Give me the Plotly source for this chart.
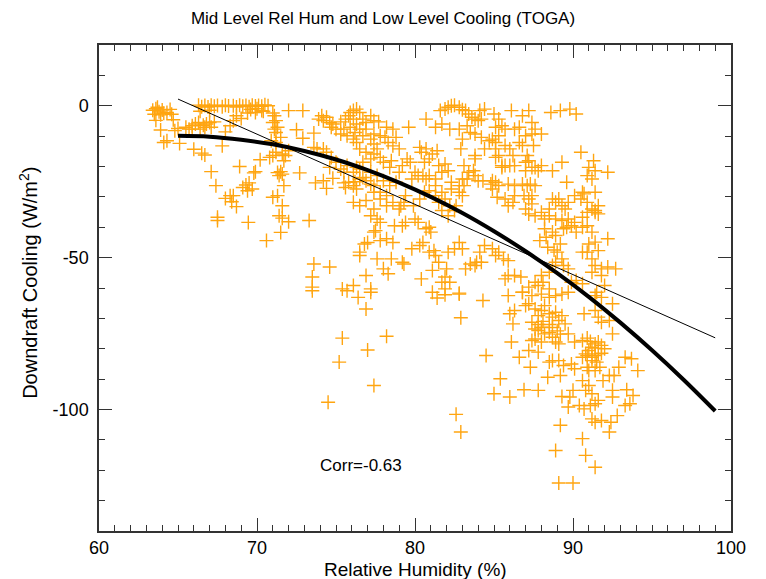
import plotly.graph_objects as go

# Scatter observations: (relative humidity %, downdraft cooling W/m2)
obs_upper_left = [
    (63.4,-1.5),(63.6,-1.0),(63.8,-2.0),(64.0,-1.4),(64.3,-2.2),(64.6,-2.8),(63.5,-2.8),(63.7,-0.5),
    (63.9,-3.0),(64.1,-2.5),(64.5,-1.2),(63.6,-4.8),(64.7,-4.6),(63.9,-8.0),(64.8,-8.2),(64.3,-11.5),
    (64.1,-12.1),(65.1,-12.4),(66.0,-14.3),(66.5,-15.6),(66.7,-16.2),(65.0,-7.5),
    (66.3,0.2),(66.5,-0.3),(66.7,0.1),(66.9,-0.4),(67.1,0.2),(67.3,-0.2),(67.5,0.1),(67.8,-0.3),
    (68.0,0.2),(68.2,-0.1),(68.5,0.0),(68.7,-0.4),(68.9,0.2),(69.1,-0.2),(69.3,0.1),(69.5,-0.3),
    (69.7,0.2),(69.9,-0.1),(70.1,0.1),(70.3,-0.2),(70.5,0.3),(70.7,0.0),
    (66.4,-1.8),(67.0,-1.5),(69.6,-1.2),(70.0,-1.0),(70.4,-1.8),(68.7,-3.3),(69.0,-4.2),(69.4,-2.4),
    (69.9,-2.2),(70.3,-1.6),
    (65.5,-7.1),(65.9,-6.6),(66.1,-6.0),(66.3,-5.5),(66.6,-6.4),(66.8,-6.0),(67.0,-5.5),(67.3,-5.3),
    (67.1,-7.1),(66.7,-7.1),(66.4,-7.7),(65.9,-7.7),(65.7,-7.7),
    (68.0,-8.6),(68.3,-6.6),(68.5,-4.9),(67.8,-13.2),(67.1,-21.7),(67.4,-26.3),(67.5,-36.7),(67.5,-37.8),
    (68.0,-30.5),(68.3,-29.6),(68.5,-29.6),(68.4,-31.6),(68.7,-33.2),(68.9,-20.0),(69.1,-26.9),(69.3,-26.1),
    (69.5,-25.4),(69.4,-28.0),(69.7,-27.4),(69.8,-22.1),(69.9,-21.7),(69.45,-38.4),(70.2,-17.8),(70.6,-44.4),
    (71.0,-2.4),(71.1,-3.3),(71.2,-4.9),(71.0,-5.5),(71.3,-7.1),(71.1,-7.7),(71.2,-8.8),(71.5,-10.4),
    (70.9,-11.5),(71.2,-12.1),(70.8,-17.0),(71.0,-16.4),(71.2,-15.3),
    (71.3,-29.6),(71.0,-30.1),(71.6,-32.9),(71.4,-36.2),(71.6,-37.0),(72.0,-38.2),(71.5,-41.7),(71.3,-22.0),
    (71.5,-21.7),(71.6,-22.5),(71.4,-23.0),(71.7,-26.3),(71.7,-18.1),(71.8,-16.4),(71.6,-15.9),(72.0,-14.8),
    (72.0,-1.6),(72.9,-1.6),(72.5,-7.9),(72.9,-10.7),(72.7,-22.1),(73.3,-37.8),
]

obs_upper_mid = [
    (73.6,-9.0),(74.1,-3.3),(73.9,-4.4),(74.2,-4.9),(74.4,-3.8),(74.6,-5.5),(74.7,-7.1),(74.8,-6.0),
    (75.0,-7.7),(75.3,-5.3),(75.6,-4.4),(75.8,-3.3),(76.1,-1.6),(76.3,-1.1),(76.5,-2.2),(76.7,-4.4),
    (76.9,-5.5),(77.2,-3.3),(77.4,-4.9),(77.7,-5.3),(78.2,-7.1),(78.1,-10.4),(78.6,-13.2),(78.5,-18.1),
    (78.4,-20.3),(73.6,-13.7),(73.8,-14.2),(74.2,-14.2),(74.4,-15.3),(74.7,-17.0),(73.7,-25.4),(74.2,-24.7),
    (74.4,-27.2),(74.8,-23.9),(75.3,-20.8),(75.5,-25.4),(75.6,-26.9),(75.8,-25.2),(76.1,-26.3),(76.2,-25.0),
    (76.3,-27.4),(76.5,-24.1),(76.7,-23.6),(76.9,-24.7),(77.2,-25.8),(77.4,-26.3),(76.1,-31.8),(76.5,-32.9),
    (76.9,-31.2),(77.2,-36.2),(77.4,-34.0),(77.8,-30.7),(77.6,-37.3),(78.2,-32.9),(78.6,-31.8),(77.8,-38.4),
    (76.5,-48.2),(76.8,-45.5),(77.0,-45.0),(77.4,-41.6),(77.5,-41.1),(77.8,-44.4),(78.2,-43.8),(78.6,-45.0),
    (77.6,-50.4),(78.0,-53.7),(78.3,-55.3),(78.5,-50.4),(76.9,-55.9),(76.5,-49.3),(73.6,-52.1),(73.5,-56.4),
    (73.5,-59.7),(74.6,-53.1),(75.4,-60.3),(76.1,-59.2),(77.2,-60.3),
    (75.9,-2.2),(76.1,-4.4),(76.3,-6.0),(76.5,-7.7),(76.2,-8.8),(76.7,-9.9),(77.2,-11.0),(77.4,-12.6),
    (77.6,-14.2),(77.4,-15.9),(77.8,-17.0),(78.0,-18.6),(77.2,-17.5),(76.9,-15.3),(76.5,-14.2),(76.3,-12.1),
    (76.1,-11.0),(75.7,-9.9),(75.3,-9.3),(75.5,-7.7),(75.9,-7.1),(76.9,-7.7),(77.4,-9.3),(77.8,-9.9),
    (78.3,-12.1),(78.6,-7.7),(77.2,-21.9),(77.6,-23.0),(78.0,-24.7),(78.4,-26.3),(77.4,-28.5),(77.8,-28.5),
    (78.2,-29.6),(76.5,-20.8),(76.1,-21.9),(76.3,-20.3),(76.7,-18.6),(75.7,-19.7),(75.5,-21.9),(75.0,-18.6),
    (74.6,-20.3),
]

obs_upper_right = [
    (81.6,-1.6),(81.9,-1.1),(82.1,-0.5),(82.3,0.0),(82.5,0.2),(82.8,-0.5),(83.0,-1.3),(83.2,-1.6),
    (83.4,-2.7),(83.6,-3.8),(83.8,-4.4),(84.0,-4.9),(84.2,-4.4),(84.4,-1.1),(84.1,-1.6),(85.0,-2.7),
    (85.3,-4.4),(85.5,-6.6),(85.1,-7.1),(85.7,-7.7),(84.9,-11.0),(85.1,-12.1),(84.7,-11.5),(85.3,-9.9),
    (83.5,-8.8),(83.8,-9.3),(84.2,-10.4),(83.3,-6.6),(86.1,-1.6),(86.8,-3.3),(87.2,-1.6),(87.4,-5.5),
    (86.6,-7.1),(86.3,-7.7),(87.0,-9.9),(87.6,-7.7),(87.4,-9.3),(88.0,-9.3),(88.6,-2.2),(89.2,-1.6),
    (89.8,-1.1),(90.2,-2.7),(90.5,-15.3),(91.3,-18.1),(92.2,-21.9),(91.4,-21.4),(91.0,-20.3),(91.2,-24.1),
    (90.9,-23.0),(89.6,-25.2),(89.3,-18.6),(88.7,-21.4),(88.0,-19.7),(87.8,-21.4),(87.4,-20.3),(87.1,-16.4),
    (87.0,-18.6),(87.2,-18.1),(87.5,-13.1),(86.8,-13.1),(86.6,-12.1),(86.2,-16.4),(86.0,-14.2),(85.7,-13.1),
    (85.3,-16.4),(85.7,-19.7),(85.5,-20.3),(85.1,-14.2),(84.4,-14.2),(83.8,-17.5),(83.7,-21.4),(83.4,-21.9),
    (83.1,-19.7),(82.9,-14.2),(83.0,-24.1),(83.3,-24.1),(83.8,-23.0),(84.0,-24.7),(84.3,-24.7),(84.9,-24.7),
    (85.1,-25.2),(85.3,-26.3),(84.8,-25.8),(84.9,-27.4),(85.2,-30.1),(85.9,-25.8),(86.3,-26.3),(86.8,-25.8),
    (87.1,-26.3),(87.3,-25.8),(87.4,-29.6),(87.6,-26.3),(86.3,-29.6),(86.2,-31.8),(85.9,-32.9),(85.7,-30.7),
    (86.9,-29.6),(87.2,-30.7),(87.4,-32.3),(87.0,-34.0),(87.2,-35.6),(87.6,-36.2),(88.0,-35.1),(88.5,-34.0),
    (88.7,-30.7),(88.9,-31.8),(89.1,-30.7),(89.3,-32.9),(89.5,-34.0),(89.7,-31.8),(90.1,-29.6),(90.5,-30.7),
    (90.7,-29.0),(90.9,-31.8),(90.6,-28.5),(91.4,-28.5),(91.6,-32.9),(91.2,-34.0),(91.4,-35.1),(90.6,-36.7),
    (90.1,-38.4),(89.9,-39.5),(89.7,-37.3),(89.3,-37.8),(88.9,-37.3),(88.5,-36.2),(88.2,-37.3),(88.2,-40.5),
    (88.7,-41.6),(88.9,-42.7),(89.4,-40.5),(89.6,-40.0),(90.2,-41.6),(90.6,-40.0),(90.9,-39.5),(91.2,-41.6),
    (91.4,-44.9),(92.2,-43.8),(91.0,-45.5),(90.6,-48.2),(90.9,-48.2),(91.6,-47.7),(91.2,-50.4),(91.4,-52.6),
    (91.8,-53.7),(92.2,-53.1),(92.7,-53.7),(91.2,-54.8),(91.8,-55.9),(92.0,-59.2),(91.5,-61.4),(90.6,-58.6),
    (90.2,-57.5),(89.9,-58.1),(89.7,-53.7),(89.4,-52.6),(89.3,-50.4),(89.0,-48.2),(88.9,-51.5),(88.7,-52.6),
    (88.5,-54.8),(88.0,-55.9),(88.1,-58.1),(88.5,-60.3),(87.8,-59.2),(87.6,-58.1),(87.2,-59.7),(86.8,-61.4),
    (86.7,-56.4),(86.3,-55.9),(85.9,-55.9),(85.7,-57.0),(85.9,-51.0),(85.6,-50.4),(85.3,-48.2),(85.1,-49.3),
    (84.9,-47.1),(84.4,-46.0),(84.1,-48.2),(84.2,-51.5),(83.8,-52.6),(83.9,-51.5),(83.5,-52.1),(83.2,-53.7),
    (83.0,-47.1),(82.8,-45.0),(82.5,-47.1),(82.1,-48.2),(82.0,-53.7),(81.9,-56.4),(82.2,-58.1),(81.7,-58.1),
    (81.5,-51.5),(81.1,-54.2),(80.9,-48.2),(81.2,-47.7),(81.3,-49.3),(80.5,-45.0),(80.3,-46.0),(79.8,-47.1),
    (79.3,-52.1),(79.2,-51.5),(80.4,-57.0),(81.1,-61.4),(81.9,-60.3),(82.8,-62.0),(80.7,-40.5),(80.9,-40.0),
    (81.0,-41.6),(80.2,-38.4),(80.0,-37.3),(79.4,-38.4),(79.2,-39.5),(78.7,-39.5),(79.3,-31.8),(79.1,-32.9),
    (79.0,-34.0),(79.4,-29.6),(79.9,-32.9),(80.3,-30.7),(80.6,-28.5),(80.9,-28.0),(81.3,-29.6),(81.5,-31.8),
    (81.9,-30.7),(82.2,-32.9),(81.7,-34.5),(82.1,-36.2),(82.5,-34.5),(82.6,-32.9),(82.8,-28.5),(83.0,-29.6),
    (83.1,-26.3),(82.8,-26.3),(82.3,-27.4),(81.7,-28.5),(81.3,-26.3),(80.7,-24.1),(80.5,-23.0),(80.0,-21.9),
    (79.7,-18.6),(79.5,-17.5),(79.2,-19.7),(79.0,-21.9),(78.8,-25.2),(79.8,-24.1),(80.2,-23.0),(80.9,-23.0),
    (81.5,-19.7),(81.9,-19.2),(82.1,-21.4),(82.3,-25.2),(81.7,-21.9),(81.3,-24.1),(80.6,-18.6),(80.9,-17.5),
    (81.1,-15.9),(81.4,-14.8),(80.7,-14.2),(80.4,-15.3),(80.3,-13.7),(79.6,-7.1),(80.7,-4.4),(81.3,-7.1),
    (81.7,-6.0),(82.2,-7.7),(82.8,-7.7),(83.0,-11.0),(79.0,-14.2),(78.8,-10.4),
    (83.8,-16.4),(85.1,-17.0),(85.5,-19.7),(86.0,-19.7),(86.3,-19.7),(87.0,-21.4),(87.6,-20.3),(91.4,-34.5),
    (91.6,-35.6),(90.9,-35.1),(88.4,-46.6),(88.8,-47.5),(89.2,-45.5),(87.9,-44.4),(88.3,-43.3),
]

obs_lower = [
    (81.4,-63.3),(81.9,-62.2),(82.8,-61.7),(84.3,-64.1),(85.9,-62.5),(86.8,-61.4),(87.4,-62.5),(88.0,-62.0),
    (88.5,-63.1),(88.9,-62.5),(89.3,-62.0),(89.7,-61.4),(82.9,-69.8),(86.0,-68.5),(86.3,-67.4),(86.2,-71.8),
    (87.0,-65.8),(87.2,-65.2),(87.6,-66.9),(87.8,-69.1),(88.0,-67.4),(88.2,-65.8),(88.5,-68.5),(88.7,-69.6),
    (88.9,-68.0),(89.1,-70.7),(89.3,-69.1),(89.5,-71.8),(89.7,-75.1),(90.1,-77.8),(90.6,-77.3),(90.7,-68.5),
    (91.4,-67.4),(91.6,-69.6),(91.8,-71.3),(92.3,-70.7),(92.5,-75.1),(92.5,-65.2),(91.8,-63.1),(91.4,-62.5),
    (87.4,-71.3),(87.6,-73.5),(87.8,-74.0),(88.0,-72.9),(88.2,-75.1),(88.5,-74.6),(88.7,-76.2),(88.9,-77.8),
    (89.1,-78.4),(87.6,-76.8),(87.4,-77.3),(88.0,-77.8),(86.1,-77.8),(87.2,-80.6),(87.8,-81.1),(86.6,-82.8),
    (87.3,-86.1),(84.5,-82.2),(85.4,-89.9),(85.0,-94.8),(86.0,-95.9),(86.9,-93.5),(87.8,-93.7),(88.5,-84.4),
    (88.7,-83.9),(89.1,-83.9),(89.2,-88.8),(88.4,-89.4),(89.4,-85.5),(89.9,-85.0),(90.1,-86.6),(90.6,-82.8),
    (90.8,-81.7),(91.0,-80.6),(91.2,-79.5),(91.4,-78.4),(91.6,-77.8),(91.8,-78.9),(92.0,-80.0),(90.9,-86.1),
    (91.2,-83.9),(91.4,-82.2),(91.6,-81.7),(91.0,-87.2),(91.4,-87.2),(91.7,-86.1),(91.9,-90.5),(92.3,-88.8),
    (92.6,-88.8),(92.9,-86.1),(93.3,-82.8),(93.7,-83.3),(94.1,-87.2),(90.6,-90.5),(91.0,-92.1),(90.8,-93.7),
    (91.2,-94.8),(91.6,-97.0),(91.4,-98.1),(91.1,-98.7),(90.7,-99.8),(90.4,-98.7),(89.8,-95.9),(89.3,-95.7),
    (89.7,-99.2),(90.0,-93.7),(92.5,-93.7),(92.5,-95.9),(93.4,-93.5),(93.8,-95.4),(93.6,-98.1),(93.3,-98.7),
    (92.8,-102.0),(92.4,-104.2),(92.3,-107.4),(91.8,-103.6),(91.4,-104.2),(91.2,-103.1),(90.6,-109.6),(90.8,-115.1),
    (91.4,-119.0),(88.9,-113.5),(89.2,-105.2),(89.1,-124.2),(90.0,-124.2),(82.6,-101.6),(82.9,-107.4),
    (90.9,-76.5),(91.1,-77.6),(91.4,-79.8),(91.8,-81.5),(90.9,-82.2),(91.2,-82.8),(91.5,-84.4),(87.8,-72.0),
    (88.1,-71.0),(88.5,-72.0),(88.7,-73.0),(89.0,-74.1),(89.2,-75.2),
    (73.5,-60.9),(75.7,-60.9),(77.2,-61.4),(76.4,-63.1),(76.9,-66.9),(75.4,-76.5),(78.2,-75.9),(77.0,-80.4),
    (75.2,-84.4),(77.4,-92.1),(74.5,-97.6),
]

all_obs = obs_upper_left + obs_upper_mid + obs_upper_right + obs_lower
rel_hum = [p[0] for p in all_obs]
cooling = [p[1] for p in all_obs]

# Linear fit line endpoints
lin_x = [65.0, 99.0]
lin_y = [2.2, -76.4]

# Curved fit, values every 2 %
curve_x = [65, 67, 69, 71, 73, 75, 77, 79, 81, 83, 85, 87, 89, 91, 93, 95, 97, 99]
curve_y = [-9.9, -10.2, -11.2, -12.7, -14.9, -17.7, -21.2, -25.3, -30.0, -35.3, -41.3, -47.9,
           -55.1, -62.9, -71.4, -80.5, -90.2, -100.5]

x_ticks = [60, 70, 80, 90, 100]
y_ticks = [-100, -50, 0]
y_ticktext = ["-100", "-50", "0"]

FONT = "Liberation Sans, Arial, Helvetica, sans-serif"
AX = "#333333"

fig = go.Figure()
fig.add_trace(go.Scatter(
    x=rel_hum, y=cooling, mode="markers",
    marker=dict(symbol="cross-thin", size=10, line=dict(color="#FFA510", width=1.4)),
    hoverinfo="skip", showlegend=False))
fig.add_trace(go.Scatter(x=lin_x, y=lin_y, mode="lines",
                         line=dict(color="black", width=1), showlegend=False))
fig.add_trace(go.Scatter(x=curve_x, y=curve_y, mode="lines",
                         line=dict(color="black", width=4, shape="spline", smoothing=1.0),
                         showlegend=False))

fig.add_annotation(x=76.6, y=-118.4, text="Corr=-0.63", showarrow=False,
                   font=dict(size=17, color="black", family=FONT))
fig.add_annotation(xref="paper", yref="paper", x=0.5, y=-0.08, text="Relative Humidity (%)",
                   showarrow=False, xanchor="center", yanchor="middle",
                   font=dict(size=19, color="black", family=FONT))
fig.add_annotation(xref="paper", yref="paper", x=-0.112, y=0.511,
                   text="Downdraft Cooling (W/m<sup>2</sup>)", textangle=-90,
                   showarrow=False, xanchor="center", yanchor="middle",
                   font=dict(size=20, color="black", family=FONT))

fig.update_layout(
    width=766, height=579,
    margin=dict(l=99, r=35, t=45, b=48),
    paper_bgcolor="white", plot_bgcolor="white",
    font=dict(family=FONT, size=18, color="black"),
    title=dict(text="Mid Level Rel Hum and Low Level Cooling (TOGA)", x=0.5, xanchor="center",
               y=1 - 18 / 579, yanchor="middle", font=dict(size=17, family=FONT)),
    xaxis=dict(range=[60, 100], tickmode="array", tickvals=x_ticks, ticks="inside", ticklen=13,
               tickwidth=1.3, tickcolor=AX, showline=True, linecolor=AX, linewidth=1.5, mirror="ticks",
               showgrid=False, zeroline=False, automargin=False,
               minor=dict(dtick=1, tick0=60, ticks="inside", ticklen=6, tickwidth=1.2, tickcolor=AX, showgrid=False),
               tickfont=dict(size=18)),
    yaxis=dict(range=[-140, 20], tickmode="array", tickvals=y_ticks, ticktext=y_ticktext, ticks="inside",
               ticklen=13, tickwidth=1.3, tickcolor=AX, showline=True, linecolor=AX, linewidth=1.5,
               mirror="ticks", showgrid=False, zeroline=False, automargin=False, ticklabelstandoff=5,
               minor=dict(dtick=10, tick0=0, ticks="inside", ticklen=6, tickwidth=1.2, tickcolor=AX, showgrid=False),
               tickfont=dict(size=18)),
)

fig.write_html("out.html")
